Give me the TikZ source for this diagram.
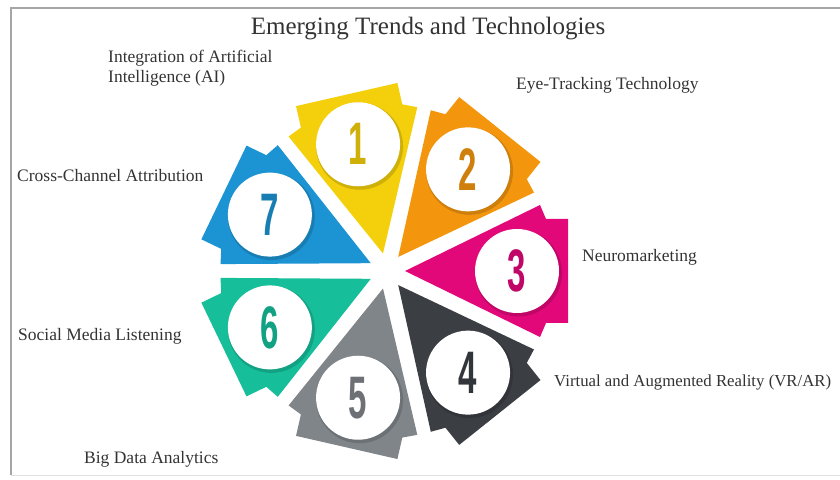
\documentclass[tikz,border=0pt]{standalone}
\usepackage{fontspec}
\usepackage{graphicx}
\setmainfont{Liberation Serif}
\newfontfamily\digitfont{Liberation Sans}

\definecolor{segyellow}{HTML}{F4CF0B}
\definecolor{segorange}{HTML}{F3960E}
\definecolor{segmagenta}{HTML}{E2087A}
\definecolor{segdark}{HTML}{3B3E43}
\definecolor{seggray}{HTML}{80858A}
\definecolor{segteal}{HTML}{16BE9A}
\definecolor{segblue}{HTML}{1C93D2}
\definecolor{textgray}{HTML}{333333}

\newcommand{\trenddigit}[1]{\scalebox{0.55}[1]{\digitfont\bfseries\fontsize{60}{60}\selectfont #1}}

\tikzset{
  numcircle/.style={circle, fill=white, minimum size=84pt, inner sep=0pt},
  trendtext/.style={anchor=base west, inner sep=0pt, text=textgray, font=\fontsize{17.5}{20}\selectfont}
}

\begin{document}
\begin{tikzpicture}[x=1pt, y=1pt]
\useasboundingbox (0,0) rectangle (840,479);

% Frame
\draw[black!35, line width=1.2pt] (11,4) -- (11,471) -- (850,471);
\draw[black!12] (11,4) -- (850,4);

% Title
\node[anchor=base, inner sep=0pt, text=textgray, font=\fontsize{25}{30}\selectfont] (title) at (428,444) {Emerging Trends and Technologies};

% Wheel segments
\coordinate (c) at (387,208);
\foreach \ang/\col/\num in {102.86/segyellow/1, 51.43/segorange/2, 0/segmagenta/3, -51.43/segdark/4, -102.86/seggray/5, -154.29/segteal/6, 154.29/segblue/7} {
  \begin{scope}[shift={(c)}, rotate=\ang]
    \fill[\col] (18,0) -- (153,66) -- (159,52) -- (181,52) -- (181,-52) -- (159,-52) -- (153,-66) -- cycle;
    \coordinate (p\num) at (130,0);
  \end{scope}
  \fill[black, opacity=0.15] ([shift={(1.5,-2)}]p\num) circle (43.5);
  \node[numcircle, text=\col!85!black] (n\num) at (p\num) {\trenddigit{\num}};
}

% Labels
\node[trendtext, align=left] (l1) at (108,396) {Integration of Artificial\\Intelligence (AI)};
\node[trendtext] (l2) at (516,389) {Eye-Tracking Technology};
\node[trendtext] (l3) at (582,217) {Neuromarketing};
\node[trendtext, font=\fontsize{16.8}{20}\selectfont] (l4) at (554,92) {Virtual and Augmented Reality (VR/AR)};
\node[trendtext] (l5) at (84,16) {Big Data Analytics};
\node[trendtext] (l6) at (18,138) {Social Media Listening};
\node[trendtext] (l7) at (17,297) {Cross-Channel Attribution};
\end{tikzpicture}
\end{document}
